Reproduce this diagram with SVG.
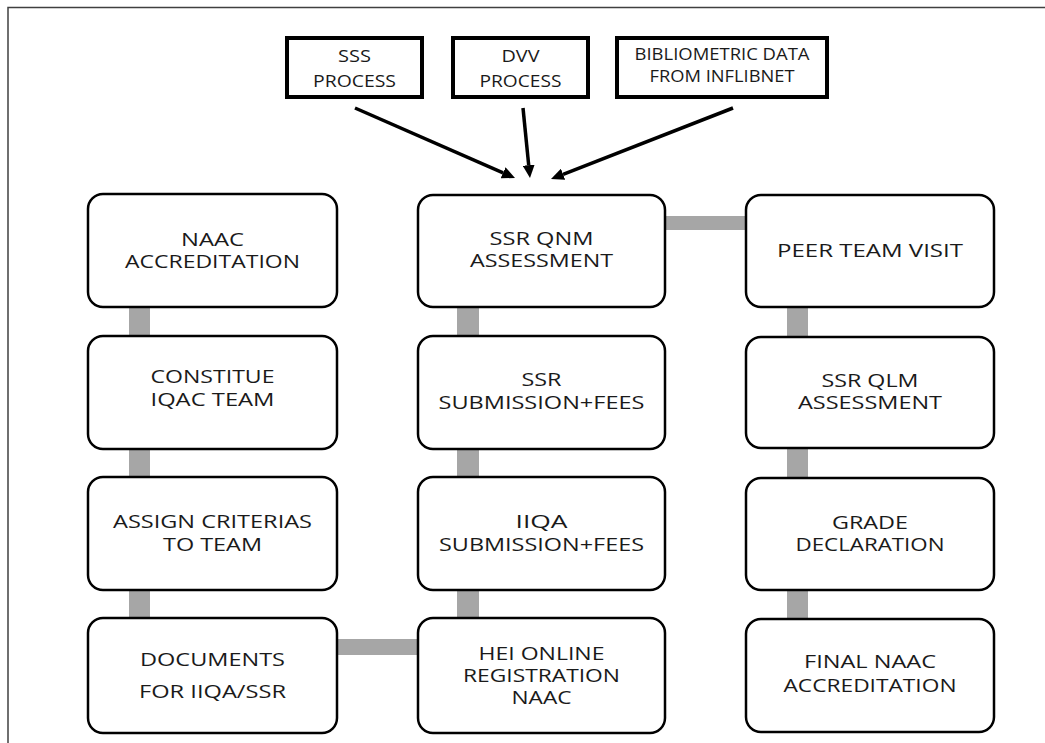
<svg xmlns="http://www.w3.org/2000/svg" width="1045" height="743" viewBox="0 0 1045 743">
<style>
.frame{fill:none;stroke:#404040;stroke-width:1.5}
.node{fill:#fff;stroke:#000;stroke-width:2.5}
.src{fill:#fff;stroke:#000;stroke-width:4}
.bar{fill:#a6a6a6}
.arrow{stroke:#000;stroke-width:3.5;fill:none}
.t{font-family:"Open Sans","Liberation Sans",sans-serif;font-size:18px;fill:#1a1a1a;text-anchor:middle}
.ts{font-family:"Open Sans","Liberation Sans",sans-serif;font-size:16.5px;fill:#1a1a1a;text-anchor:middle}
</style>
<defs>
<marker id="ah" viewBox="0 0 13 12" markerWidth="13" markerHeight="12" refX="0" refY="6" orient="auto" markerUnits="userSpaceOnUse">
<path d="M0,0 L13,6 L0,12 z" fill="#000"/>
</marker>
</defs>
<rect width="1045" height="743" fill="#fff"/>
<path class="frame" d="M8,743 L8,7.5 L1045,7.5"/>
<g id="connectors">
<rect class="bar" x="129" y="305" width="21" height="33"/>
<rect class="bar" x="129" y="447" width="21" height="32"/>
<rect class="bar" x="129" y="588" width="21" height="32"/>
<rect class="bar" x="457" y="305" width="22" height="33"/>
<rect class="bar" x="457" y="447" width="22" height="32"/>
<rect class="bar" x="457" y="588" width="22" height="32"/>
<rect class="bar" x="787" y="305" width="21" height="33"/>
<rect class="bar" x="787" y="447" width="21" height="32"/>
<rect class="bar" x="787" y="588" width="21" height="32"/>
<rect class="bar" x="335" y="639" width="85" height="16"/>
<rect class="bar" x="663" y="216" width="85" height="14"/>
<line class="arrow" x1="355" y1="108" x2="503.1" y2="172.8" marker-end="url(#ah)"/>
<line class="arrow" x1="523" y1="108" x2="528.7" y2="165.1" marker-end="url(#ah)"/>
<line class="arrow" x1="733" y1="108" x2="563.1" y2="174.3" marker-end="url(#ah)"/>
</g>
<g id="sss">
<rect class="src" x="287" y="38" width="135" height="59"/>
<text class="ts" x="354.5" y="62" textLength="33" lengthAdjust="spacingAndGlyphs">SSS</text>
<text class="ts" x="354.5" y="87" textLength="83" lengthAdjust="spacingAndGlyphs">PROCESS</text>
</g>
<g id="dvv">
<rect class="src" x="453" y="38" width="135" height="59"/>
<text class="ts" x="520.5" y="62" textLength="38" lengthAdjust="spacingAndGlyphs">DVV</text>
<text class="ts" x="520.5" y="87" textLength="82" lengthAdjust="spacingAndGlyphs">PROCESS</text>
</g>
<g id="biblio">
<rect class="src" x="617" y="38" width="210" height="59"/>
<text class="ts" x="722" y="60" font-size="15.5" textLength="175" lengthAdjust="spacingAndGlyphs">BIBLIOMETRIC DATA</text>
<text class="ts" x="722" y="82" font-size="15.5" textLength="145" lengthAdjust="spacingAndGlyphs">FROM INFLIBNET</text>
</g>
<g id="naac">
<rect class="node" x="88" y="194" width="249" height="113" rx="15"/>
<text class="t" x="212.5" y="246" textLength="63" lengthAdjust="spacingAndGlyphs">NAAC</text>
<text class="t" x="212.5" y="268" textLength="175" lengthAdjust="spacingAndGlyphs">ACCREDITATION</text>
</g>
<g id="iqac">
<rect class="node" x="88" y="336" width="249" height="113" rx="15"/>
<text class="t" x="212.5" y="383" textLength="124" lengthAdjust="spacingAndGlyphs">CONSTITUE</text>
<text class="t" x="212.5" y="406" textLength="124" lengthAdjust="spacingAndGlyphs">IQAC TEAM</text>
</g>
<g id="assign">
<rect class="node" x="88" y="477" width="249" height="113" rx="15"/>
<text class="t" x="212.5" y="528" textLength="199" lengthAdjust="spacingAndGlyphs">ASSIGN CRITERIAS</text>
<text class="t" x="212.5" y="551" textLength="99" lengthAdjust="spacingAndGlyphs">TO TEAM</text>
</g>
<g id="docs">
<rect class="node" x="88" y="618" width="249" height="115" rx="15"/>
<text class="t" x="212.5" y="666" textLength="145" lengthAdjust="spacingAndGlyphs">DOCUMENTS</text>
<text class="t" x="212.5" y="698" textLength="147" lengthAdjust="spacingAndGlyphs">FOR IIQA/SSR</text>
</g>
<g id="qnm">
<rect class="node" x="418" y="195" width="247" height="112" rx="15"/>
<text class="t" x="541.5" y="245" textLength="104" lengthAdjust="spacingAndGlyphs">SSR QNM</text>
<text class="t" x="541.5" y="267" textLength="143" lengthAdjust="spacingAndGlyphs">ASSESSMENT</text>
</g>
<g id="ssrsub">
<rect class="node" x="418" y="336" width="247" height="113" rx="15"/>
<text class="t" x="541.5" y="386" textLength="40" lengthAdjust="spacingAndGlyphs">SSR</text>
<text class="t" x="541.5" y="409" textLength="206" lengthAdjust="spacingAndGlyphs">SUBMISSION+FEES</text>
</g>
<g id="iiqa">
<rect class="node" x="418" y="477" width="247" height="113" rx="15"/>
<text class="t" x="541.5" y="528" textLength="52" lengthAdjust="spacingAndGlyphs">IIQA</text>
<text class="t" x="541.5" y="551" textLength="205" lengthAdjust="spacingAndGlyphs">SUBMISSION+FEES</text>
</g>
<g id="hei">
<rect class="node" x="418" y="618" width="247" height="115" rx="15"/>
<text class="t" x="541.5" y="660" textLength="126" lengthAdjust="spacingAndGlyphs">HEI ONLINE</text>
<text class="t" x="541.5" y="682" textLength="157" lengthAdjust="spacingAndGlyphs">REGISTRATION</text>
<text class="t" x="541.5" y="704" textLength="60" lengthAdjust="spacingAndGlyphs">NAAC</text>
</g>
<g id="peer">
<rect class="node" x="746" y="195" width="248" height="112" rx="15"/>
<text class="t" x="870" y="257" textLength="186" lengthAdjust="spacingAndGlyphs">PEER TEAM VISIT</text>
</g>
<g id="qlm">
<rect class="node" x="746" y="337" width="248" height="111" rx="15"/>
<text class="t" x="870" y="387" textLength="97" lengthAdjust="spacingAndGlyphs">SSR QLM</text>
<text class="t" x="870" y="409" textLength="144" lengthAdjust="spacingAndGlyphs">ASSESSMENT</text>
</g>
<g id="grade">
<rect class="node" x="746" y="478" width="248" height="112" rx="15"/>
<text class="t" x="870" y="529" textLength="76" lengthAdjust="spacingAndGlyphs">GRADE</text>
<text class="t" x="870" y="551" textLength="149" lengthAdjust="spacingAndGlyphs">DECLARATION</text>
</g>
<g id="final">
<rect class="node" x="746" y="619" width="248" height="113" rx="15"/>
<text class="t" x="870" y="668" textLength="132" lengthAdjust="spacingAndGlyphs">FINAL NAAC</text>
<text class="t" x="870" y="692" textLength="173" lengthAdjust="spacingAndGlyphs">ACCREDITATION</text>
</g>
</svg>
